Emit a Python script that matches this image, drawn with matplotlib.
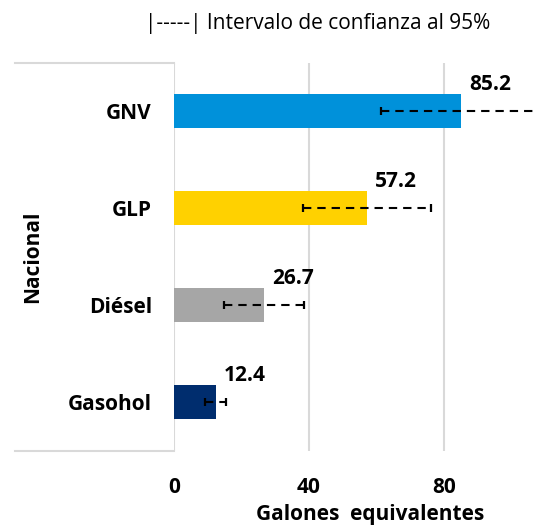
import matplotlib
matplotlib.use("Agg")
import matplotlib.pyplot as plt
from matplotlib.lines import Line2D

plt.rcParams['font.family'] = ['Open Sans', 'DejaVu Sans']
plt.rcParams['lines.scale_dashes'] = False

categories = ['GNV', 'GLP', 'Diésel', 'Gasohol']
values = [85.2, 57.2, 26.7, 12.4]
ci_half = [23.9, 19.0, 11.8, 3.1]
colors = ['#0091DA', '#FFD100', '#A6A6A6', '#002D6E']
xticks = [0, 40, 80]
xtick_labels = ['0', '40', '80']
group_label = 'Nacional'
title = '|-----| Intervalo de confianza al 95%'
xlabel = 'Galones  equivalentes'

W, H = 535, 526
fig = plt.figure(figsize=(W / 100, H / 100), dpi=100)
x0, x_right = 174, 578.6
y_top, y_bot = 62.7, 450.7
ax = fig.add_axes([x0 / W, 1 - y_bot / H, (x_right - x0) / W, (y_bot - y_top) / H])

ypos = list(range(len(categories)))
ax.barh(ypos, values, height=0.35, color=colors, zorder=2)
eb = ax.errorbar(values, ypos, xerr=ci_half, fmt='none', ecolor='black',
                 elinewidth=1.5, capsize=3.0, capthick=1.6, zorder=3)
eb[2][0].set_linestyle((0, (6.0, 4.3)))

for v, y in zip(values, ypos):
    ax.annotate(f'{v:.1f}', xy=(v, y), xytext=(29, 21), textcoords='offset pixels',
                ha='center', va='baseline', fontsize=15, fontweight='bold', color='black')

ax.set_xlim(0, 120)
ax.set_ylim(len(categories) - 0.5, -0.5)
ax.set_xticks(xticks)
ax.set_xticklabels(xtick_labels)
ax.set_yticks(ypos)
ax.set_yticklabels(categories)
for lab in ax.get_xticklabels() + ax.get_yticklabels():
    lab.set_fontweight('bold')
    lab.set_fontsize(15)
ax.tick_params(axis='x', length=0, pad=19)
ax.tick_params(axis='y', length=0, pad=16)
for s in ax.spines.values():
    s.set_visible(False)
ax.grid(axis='x', color='#D9D9D9', linewidth=1.5, zorder=0)
ax.set_axisbelow(True)

ax.set_xlabel(xlabel, fontsize=15, fontweight='bold')
ax.xaxis.label.set_va('baseline')
ax.xaxis.set_label_coords((370.4 - x0) / (x_right - x0), -0.179)

# category table lines
for yy in (y_top, y_bot):
    fig.add_artist(Line2D([15 / W, x0 / W], [1 - yy / H] * 2, color='#D9D9D9', linewidth=1.5))

fig.text(32.4 / W, 1 - 257 / H, group_label, rotation=90, ha='center', va='center',
         fontsize=15, fontweight='bold')
fig.text(317.5 / W, 1 - 24 / H, title, ha='center', va='center', fontsize=15)

fig.savefig('out.png', dpi=100)
